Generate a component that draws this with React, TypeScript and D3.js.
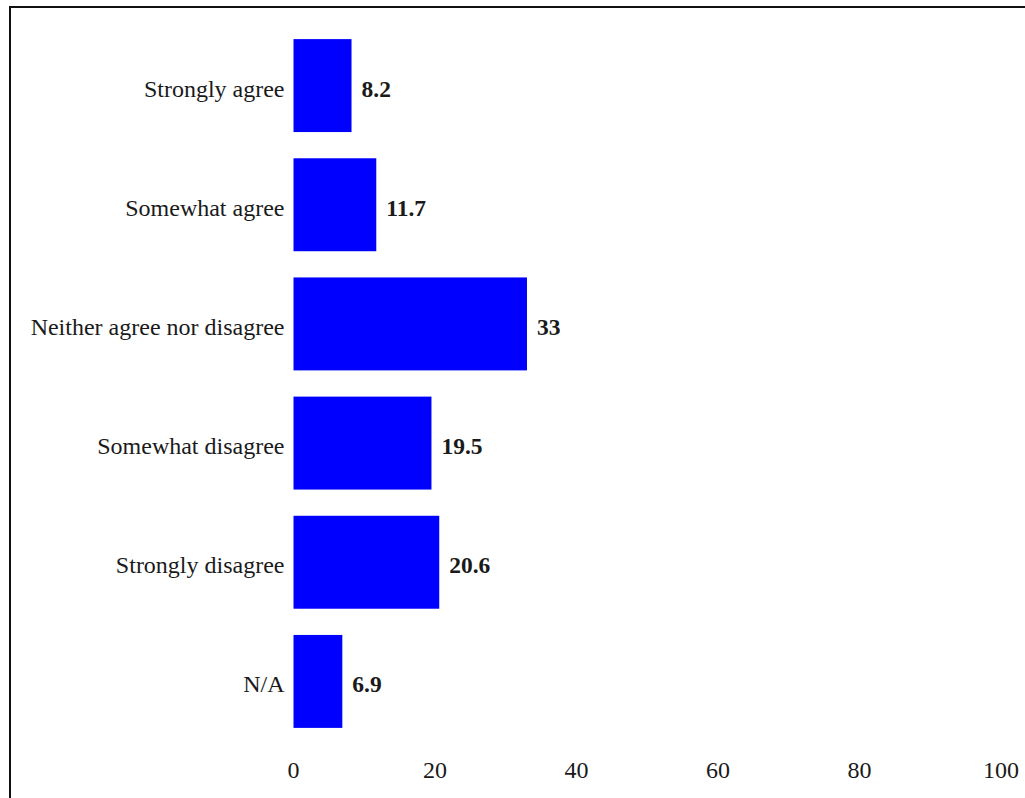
import React from "react";
import * as d3 from "d3";

const categories = [
  "Strongly agree",
  "Somewhat agree",
  "Neither agree nor disagree",
  "Somewhat disagree",
  "Strongly disagree",
  "N/A",
];
const values = [8.2, 11.7, 33, 19.5, 20.6, 6.9];
const valueLabels = ["8.2", "11.7", "33", "19.5", "20.6", "6.9"];
const xTicks = [0, 20, 40, 60, 80, 100];

const W = 1025;
const H = 798;

export default function App() {
  const x = d3.scaleLinear().domain([0, 100]).range([293.5, 1001]);
  const y = d3
    .scaleBand<string>()
    .domain(categories)
    .range([26, 741])
    .paddingInner(0.22)
    .paddingOuter(0.11);
  const font = "'Liberation Serif', 'Times New Roman', serif";
  const textColor = "#1a1a1a";
  const fs = 24;

  return (
    <svg
      width={W}
      height={H}
      style={{ position: "absolute", left: 0, top: 0, background: "#fff" }}
    >
      <rect x={0} y={0} width={W} height={H} fill="#fff" />
      <rect
        x={10}
        y={7}
        width={W + 20}
        height={H + 20}
        fill="none"
        stroke="#111"
        strokeWidth={2}
      />
      {categories.map((c, i) => {
        const by = y(c)!;
        const bh = y.bandwidth();
        const cy = by + bh / 2;
        return (
          <g key={c}>
            <rect
              x={x(0)}
              y={by}
              width={x(values[i]) - x(0)}
              height={bh}
              fill="#0000ff"
            />
            <text
              x={x(0) - 9}
              y={cy + 11}
              textAnchor="end"
              fontFamily={font}
              fontSize={fs}
              fill={textColor}
            >
              {c}
            </text>
            <text
              x={x(values[i]) + 10}
              y={cy + 11}
              textAnchor="start"
              fontFamily={font}
              fontSize={fs - 0.5}
              fontWeight="bold"
              fill={textColor}
            >
              {valueLabels[i]}
            </text>
          </g>
        );
      })}
      {xTicks.map((t) => (
        <text
          key={t}
          x={x(t)}
          y={778}
          textAnchor="middle"
          fontFamily={font}
          fontSize={fs}
          fill={textColor}
        >
          {t}
        </text>
      ))}
    </svg>
  );
}
